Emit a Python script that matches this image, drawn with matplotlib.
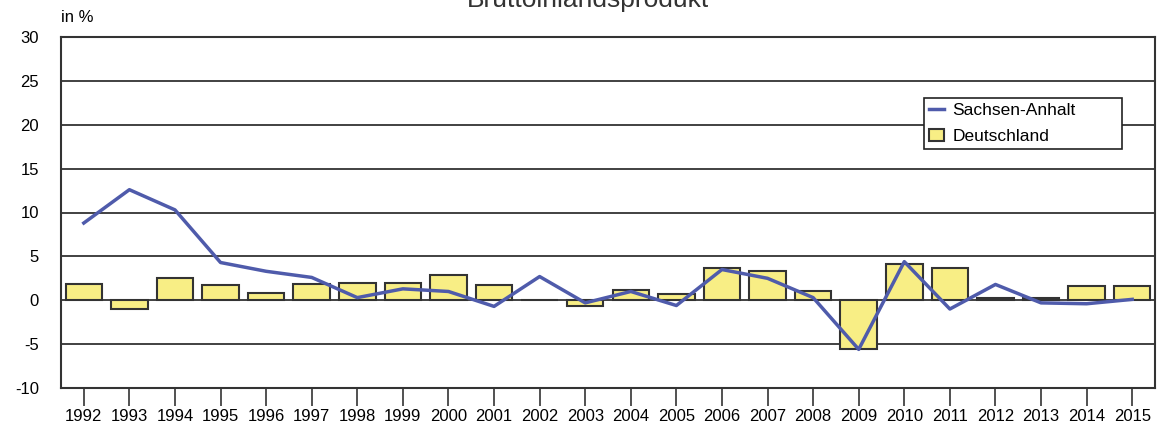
import numpy as np, matplotlib
matplotlib.use("Agg"); import matplotlib.pyplot as plt

years = [str(y) for y in range(1992, 2016)]
deutschland = [1.8, -1.0, 2.5, 1.7, 0.8, 1.8, 2.0, 2.0, 2.9, 1.7, 0.0, -0.7,
               1.2, 0.7, 3.7, 3.3, 1.1, -5.6, 4.1, 3.7, 0.3, 0.3, 1.6, 1.6]
sachsen_anhalt = [8.8, 12.6, 10.3, 4.3, 3.3, 2.6, 0.3, 1.3, 1.0, -0.7, 2.7, -0.3,
                  1.0, -0.6, 3.5, 2.5, 0.3, -5.6, 4.4, -1.0, 1.8, -0.3, -0.4, 0.1]
yticks = [-10, -5, 0, 5, 10, 15, 20, 25, 30]

plt.rcParams["font.family"] = ["Liberation Sans", "DejaVu Sans"]
fig = plt.figure(figsize=(11.61, 4.37), dpi=100)
ax = fig.add_axes([61/1161, 1-388/437, (1155-61)/1161, 351/437])
x = np.arange(len(years))

ax.grid(axis="y", color="#333333", lw=1.3)
ax.set_axisbelow(True)
ax.bar(x, deutschland, width=0.8, color="#f8ee85", edgecolor="#333333", lw=1.5,
       label="Deutschland", zorder=2)
ax.plot(x, sachsen_anhalt, color="#4f5bab", lw=2.5, label="Sachsen-Anhalt", zorder=3)

ax.set_xlim(-0.5, len(years) - 0.5)
ax.set_ylim(-10, 30)
ax.set_yticks(yticks)
ax.set_yticklabels([str(v) for v in yticks], fontsize=12)
ax.tick_params(axis="y", length=0, pad=16)
ax.set_xticks(x)
ax.set_xticklabels(years, fontsize=12)
ax.tick_params(axis="x", length=13, width=1.2, color="#333333", pad=2, direction="out")
for s in ax.spines.values():
    s.set_color("#333333"); s.set_linewidth(1.5)

# legend box: px 924..1122 wide, top at 98
leg = ax.legend(loc="upper left", bbox_to_anchor=(0.789, 0.6, 0.181, 0.226), mode="expand",
                borderaxespad=0, fontsize=12.5, fancybox=False, framealpha=1,
                edgecolor="#222222", handlelength=0.85, handletextpad=0.5,
                borderpad=0.28, labelspacing=0.6)
leg.get_frame().set_linewidth(1.2)

fig.text(61/1161, 1-18/437, "in %", fontsize=12, va="center", ha="left")
fig.text(588/1161, 1.0, "Bruttoinlandsprodukt", fontsize=19, va="center", ha="center",
         color="#333333")

fig.savefig("out.png", dpi=100)
